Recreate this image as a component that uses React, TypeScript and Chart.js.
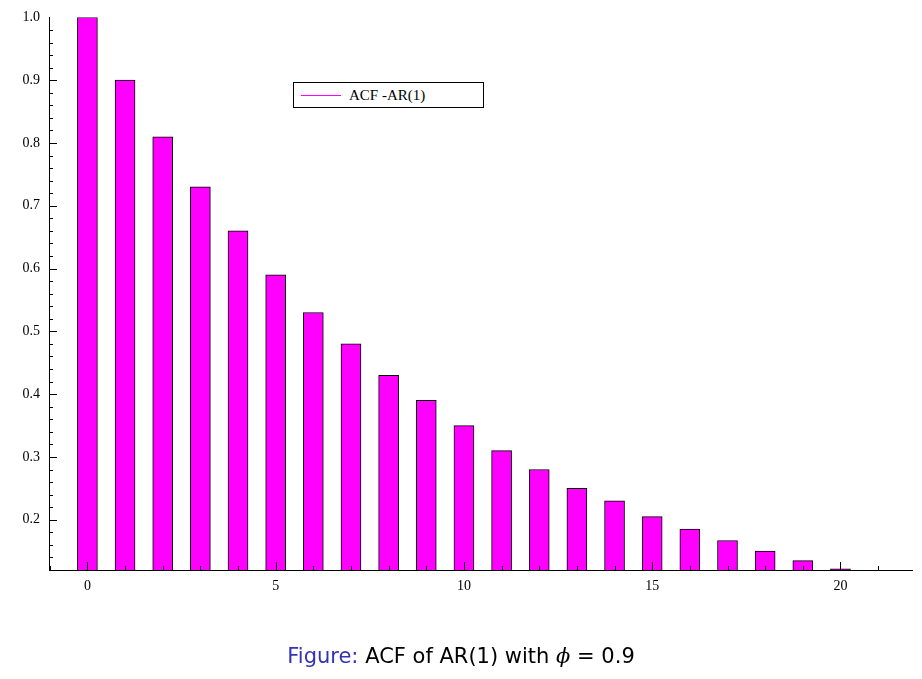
import React, { useEffect, useRef } from "react";
import { Chart, registerables } from "chart.js";
Chart.register(...registerables);

const lags = [0, 1, 2, 3, 4, 5, 6, 7, 8, 9, 10, 11, 12, 13, 14, 15, 16, 17, 18, 19, 20];
const acf = [1.0, 0.9, 0.81, 0.73, 0.66, 0.59, 0.53, 0.48, 0.43, 0.39, 0.35, 0.31, 0.28, 0.25, 0.23, 0.205, 0.185, 0.167, 0.15, 0.135, 0.122];
const yTicks = [0.2, 0.3, 0.4, 0.5, 0.6, 0.7, 0.8, 0.9, 1.0];
const xTicks = [0, 5, 10, 15, 20];
const yMinor = [0.14, 0.16, 0.18, 0.2, 0.22, 0.24, 0.26, 0.28, 0.3, 0.32, 0.34, 0.36, 0.38, 0.4, 0.42, 0.44, 0.46, 0.48, 0.5, 0.52, 0.54, 0.56, 0.58, 0.6, 0.62, 0.64, 0.66, 0.68, 0.7, 0.72, 0.74, 0.76, 0.78, 0.8, 0.82, 0.84, 0.86, 0.88, 0.9, 0.92, 0.94, 0.96, 0.98];
const xMinor = [-1, 0, 1, 2, 3, 4, 5, 6, 7, 8, 9, 10, 11, 12, 13, 14, 15, 16, 17, 18, 19, 20, 21];

const tickPlugin = {
  id: "innerTicks",
  afterDatasetsDraw(chart: any) {
    const { ctx, scales, chartArea } = chart;
    const x = scales.x, y = scales.y;
    ctx.save();
    ctx.strokeStyle = "#000";
    ctx.lineWidth = 1;
    ctx.beginPath();
    yMinor.forEach((v) => {
      const py = Math.round(y.getPixelForValue(v)) + 0.5;
      const major = yTicks.some((t) => Math.abs(t - v) < 1e-6);
      ctx.moveTo(chartArea.left, py);
      ctx.lineTo(chartArea.left + (major ? 8 : 4), py);
    });
    xMinor.forEach((v) => {
      const px = Math.round(x.getPixelForValue(v)) + 0.5;
      const major = xTicks.includes(v);
      ctx.moveTo(px, chartArea.bottom);
      ctx.lineTo(px, chartArea.bottom - (major ? 8 : 4));
    });
    ctx.stroke();
    ctx.restore();
  },
};

export default function App() {
  const ref = useRef<HTMLCanvasElement>(null);
  useEffect(() => {
    const chart = new Chart(ref.current!, {
      type: "bar",
      data: {
        datasets: [
          {
            label: "ACF -AR(1)",
            data: lags.map((l, i) => ({ x: l, y: acf[i] })),
            backgroundColor: "#ff00ff",
            borderColor: "#000",
            borderWidth: 1,
            barThickness: 20,
          },
        ],
      },
      options: {
        animation: false,
        responsive: false,
        layout: { padding: { left: 0, top: 15, right: 10, bottom: 79 } },
        plugins: { legend: { display: false }, tooltip: { enabled: false } },
        scales: {
          x: {
            type: "linear",
            min: -1.02,
            max: 21.9,
            offset: false,
            grid: { display: false, drawTicks: false },
            border: { color: "#000", width: 1 },
            afterBuildTicks: (a: any) => { a.ticks = xTicks.map((v) => ({ value: v })); },
            afterFit: (a: any) => { a.height = 30; },
            ticks: { color: "#000", padding: 8, font: { family: "Liberation Serif", size: 14 } },
          },
          y: {
            min: 0.12,
            max: 1.0,
            grid: { display: false, drawTicks: false },
            border: { color: "#000", width: 1 },
            afterBuildTicks: (a: any) => { a.ticks = yTicks.map((v) => ({ value: v })); },
            afterFit: (a: any) => { a.width = 49; },
            ticks: { color: "#000", padding: 9, font: { family: "Liberation Serif", size: 14 }, callback: (v: any) => Number(v).toFixed(1) },
          },
        },
      },
      plugins: [tickPlugin],
    });
    return () => chart.destroy();
  }, []);
  return (
    <div style={{ position: "absolute", left: 0, top: 0, width: 922, height: 679, background: "#fff" }}>
      <canvas ref={ref} width={922} height={679} style={{ position: "absolute", left: 0, top: 0 }} />
      <div style={{ position: "absolute", left: 293, top: 82, width: 189, height: 24, border: "1px solid #000", background: "#fff", fontFamily: "Liberation Serif", fontSize: 15, display: "flex", alignItems: "center" }}>
        <span style={{ display: "inline-block", width: 40, height: 1, background: "#ff00ff", marginLeft: 7, marginRight: 8 }} />
        ACF -AR(1)
      </div>
      <div style={{ position: "absolute", left: 0, width: 922, top: 644, textAlign: "center", fontFamily: "DejaVu Sans", fontSize: 21 }}>
        <span style={{ color: "#3333b3" }}>Figure:</span> ACF of AR(1) with <span style={{ fontFamily: "DejaVu Serif", fontStyle: "italic" }}>ϕ</span> = 0.9
      </div>
    </div>
  );
}
